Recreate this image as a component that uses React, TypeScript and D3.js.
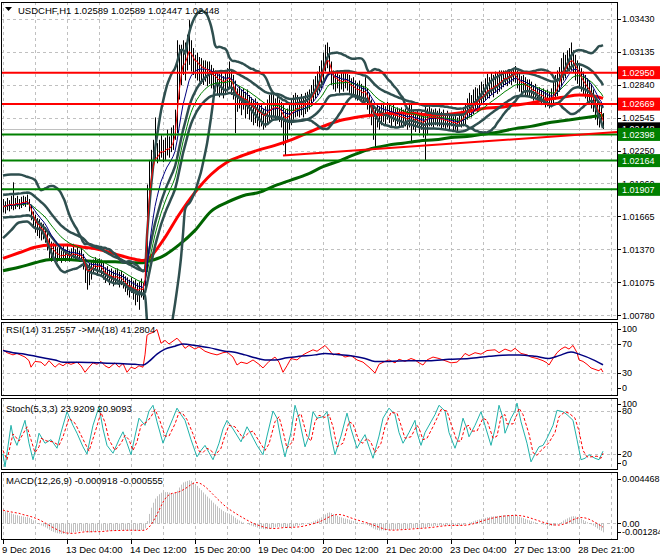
import React from "react";
import * as d3 from "d3";

// ---------- DATA (USDCHF H1, one value per bar) ----------
const closes: number[] = [
  1.0176,1.0174,1.0178,1.0177,1.0178,1.0176,1.0178,1.0179,1.0177,1.0179,1.0180,1.0179,1.0181,
  1.0176,1.0169,1.0163,1.0160,1.0156,1.0158,1.0153,1.0154,1.0149,
  1.0144,1.0138,1.0135,1.0136,1.0133,1.0131,
  1.0132,1.0129,1.0133,1.0131,1.0134,1.0130,1.0132,1.0135,1.0131,1.0133,1.0130,1.0132,
  1.0126,1.0119,1.0113,1.0117,1.0120,
  1.0122,1.0125,1.0120,1.0123,1.0121,
  1.0117,1.0113,1.0115,1.0112,1.0114,1.0111,1.0112,
  1.0113,1.0110,1.0112,1.0108,1.0106,
  1.0104,1.0102,1.0105,1.0101,1.0102,1.0099,1.0101,1.0103,1.0100,
  1.0119,1.0190,1.0208,1.0217,
  1.0221,1.0226,1.0220,1.0224,1.0228,1.0223,1.0226,1.0229,1.0226,1.0231,1.0235,
  1.0246,1.0275,1.0297,1.0306,1.0311,1.0305,1.0313,1.0320,1.0311,
  1.0306,1.0302,1.0305,1.0299,1.0301,1.0297,1.0299,1.0296,1.0297,
  1.0294,1.0290,1.0292,1.0288,1.0287,1.0289,1.0285,1.0288,1.0290,1.0292,1.0287,1.0281,
  1.0275,1.0272,1.0275,1.0271,1.0273,1.0269,1.0271,1.0267,
  1.0265,1.0262,1.0263,1.0260,1.0257,1.0259,1.0255,1.0257,
  1.0260,1.0262,1.0263,1.0266,1.0263,1.0265,1.0262,1.0259,
  1.0255,1.0251,1.0255,1.0257,1.0260,
  1.0262,1.0263,1.0265,1.0263,1.0266,1.0264,1.0267,1.0269,1.0271,
  1.0273,1.0278,1.0281,1.0284,1.0288,1.0294,1.0301,1.0306,1.0311,1.0305,
  1.0293,1.0288,1.0287,1.0290,1.0285,1.0288,1.0286,1.0289,1.0287,
  1.0285,1.0281,1.0283,1.0280,1.0278,1.0280,1.0277,1.0275,1.0280,
  1.0272,1.0266,1.0260,1.0257,1.0255,1.0258,1.0256,1.0259,
  1.0260,1.0257,1.0262,1.0258,1.0256,1.0259,1.0255,1.0257,1.0255,
  1.0256,1.0254,1.0255,1.0252,1.0255,1.0257,1.0253,1.0251,1.0254,1.0250,
  1.0252,1.0249,1.0253,1.0255,1.0257,1.0255,
  1.0254,1.0256,1.0253,1.0255,1.0252,1.0254,1.0251,1.0253,1.0250,
  1.0252,1.0249,1.0251,1.0248,1.0252,1.0254,1.0255,1.0258,
  1.0262,1.0265,1.0263,1.0267,1.0271,1.0269,1.0272,1.0275,
  1.0274,1.0278,1.0281,1.0280,1.0283,1.0281,1.0285,1.0284,1.0287,1.0288,
  1.0290,1.0292,1.0289,1.0293,1.0291,1.0295,1.0294,
  1.0288,1.0286,1.0284,1.0287,1.0283,1.0281,1.0282,
  1.0280,1.0277,1.0279,1.0275,1.0276,1.0273,1.0274,1.0271,1.0272,1.0270,
  1.0271,1.0275,1.0280,1.0284,1.0288,
  1.0296,1.0301,1.0299,1.0304,1.0306,1.0308,1.0305,1.0299,
  1.0296,1.0292,1.0288,1.0285,1.0283,1.0280,1.0278,1.0274,
  1.0271,1.0263,1.0260,1.0255,1.0259,1.02448,
];

const highs: number[] = [
  1.0182,1.0180,1.0183,1.0181,1.0185,1.0197,1.0183,1.0185,1.0182,1.0184,1.0185,1.0184,1.0186,
  1.0182,1.0177,1.0171,1.0168,1.0165,1.0164,1.0161,1.0160,1.0157,
  1.0152,1.0147,1.0144,1.0143,1.0141,1.0139,
  1.0139,1.0136,1.0140,1.0137,1.0141,1.0136,1.0138,1.0142,1.0137,1.0140,1.0136,1.0139,
  1.0133,1.0128,1.0123,1.0124,1.0127,
  1.0128,1.0130,1.0128,1.0129,1.0128,
  1.0125,1.0121,1.0122,1.0119,1.0120,1.0118,1.0119,
  1.0120,1.0117,1.0118,1.0115,1.0113,
  1.0112,1.0110,1.0112,1.0109,1.0110,1.0107,1.0108,1.0111,1.0107,
  1.0132,1.0195,1.0217,1.0226,
  1.0235,1.0255,1.0232,1.0235,1.0239,1.0235,1.0237,1.0244,1.0238,1.0246,1.0248,
  1.0262,1.0324,1.0320,1.0320,1.0324,1.0322,1.0329,1.0342,1.0324,
  1.0317,1.0311,1.0313,1.0309,1.0308,1.0306,1.0306,1.0305,1.0305,
  1.0302,1.0299,1.0297,1.0296,1.0294,1.0296,1.0292,1.0297,1.0299,1.0305,1.0297,1.0293,
  1.0288,1.0281,1.0283,1.0280,1.0281,1.0278,1.0280,1.0275,
  1.0273,1.0271,1.0272,1.0269,1.0266,1.0267,1.0263,1.0265,
  1.0271,1.0275,1.0277,1.0275,1.0272,1.0274,1.0271,1.0269,
  1.0266,1.0262,1.0263,1.0266,1.0271,
  1.0275,1.0277,1.0275,1.0273,1.0276,1.0274,1.0277,1.0278,1.0280,
  1.0284,1.0289,1.0292,1.0296,1.0301,1.0306,1.0313,1.0320,1.0322,1.0318,
  1.0305,1.0297,1.0296,1.0297,1.0293,1.0296,1.0295,1.0297,1.0294,
  1.0293,1.0290,1.0291,1.0288,1.0286,1.0288,1.0285,1.0283,1.0291,
  1.0281,1.0277,1.0271,1.0266,1.0264,1.0267,1.0265,1.0268,
  1.0268,1.0265,1.0269,1.0267,1.0264,1.0267,1.0263,1.0264,1.0263,
  1.0264,1.0262,1.0263,1.0261,1.0268,1.0268,1.0262,1.0260,1.0262,1.0259,
  1.0260,1.0258,1.0266,1.0263,1.0265,1.0263,
  1.0262,1.0263,1.0261,1.0263,1.0260,1.0262,1.0259,1.0261,1.0258,
  1.0259,1.0256,1.0258,1.0255,1.0259,1.0261,1.0263,1.0267,
  1.0272,1.0277,1.0275,1.0280,1.0282,1.0281,1.0284,1.0287,
  1.0285,1.0290,1.0294,1.0291,1.0295,1.0293,1.0296,1.0295,1.0297,1.0297,
  1.0297,1.0297,1.0296,1.0298,1.0297,1.0299,1.0301,
  1.0297,1.0294,1.0292,1.0293,1.0291,1.0289,1.0289,
  1.0287,1.0284,1.0285,1.0282,1.0282,1.0280,1.0281,1.0279,1.0280,1.0278,
  1.0281,1.0287,1.0293,1.0297,1.0300,
  1.0308,1.0313,1.0311,1.0315,1.0317,1.0322,1.0315,1.0311,
  1.0306,1.0303,1.0299,1.0296,1.0293,1.0290,1.0288,1.0285,
  1.0280,1.0275,1.0271,1.0267,1.0266,1.02589,
];

const lows: number[] = [
  1.0170,1.0169,1.0172,1.0171,1.0173,1.0172,1.0173,1.0175,1.0173,1.0174,1.0176,1.0175,1.0177,
  1.0171,1.0163,1.0156,1.0152,1.0149,1.0147,1.0145,1.0146,1.0143,
  1.0136,1.0129,1.0126,1.0129,1.0125,1.0126,
  1.0128,1.0125,1.0128,1.0126,1.0128,1.0126,1.0128,1.0129,1.0127,1.0128,1.0126,1.0127,
  1.0119,1.0107,1.0101,1.0105,1.0110,
  1.0116,1.0119,1.0114,1.0117,1.0113,
  1.0110,1.0107,1.0109,1.0105,1.0108,1.0104,1.0106,
  1.0107,1.0103,1.0105,1.0102,1.0099,
  1.0096,1.0094,1.0098,1.0092,1.0087,1.0090,1.0083,1.0094,1.0092,
  1.0099,1.0117,1.0177,1.0201,
  1.0213,1.0217,1.0214,1.0217,1.0219,1.0215,1.0217,1.0221,1.0219,1.0224,1.0226,
  1.0235,1.0241,1.0271,1.0284,1.0293,1.0288,1.0297,1.0302,1.0296,
  1.0293,1.0290,1.0288,1.0287,1.0285,1.0284,1.0287,1.0283,1.0285,
  1.0281,1.0280,1.0278,1.0275,1.0273,1.0276,1.0272,1.0275,1.0278,1.0280,1.0275,1.0271,
  1.0241,1.0260,1.0263,1.0257,1.0262,1.0254,1.0258,1.0253,
  1.0251,1.0248,1.0250,1.0247,1.0246,1.0247,1.0244,1.0246,
  1.0249,1.0251,1.0253,1.0255,1.0253,1.0254,1.0251,1.0246,
  1.0230,1.0221,1.0235,1.0244,1.0248,
  1.0253,1.0255,1.0256,1.0255,1.0257,1.0255,1.0258,1.0260,1.0262,
  1.0265,1.0269,1.0272,1.0275,1.0278,1.0281,1.0288,1.0296,1.0299,1.0293,
  1.0284,1.0280,1.0278,1.0281,1.0277,1.0280,1.0278,1.0281,1.0279,
  1.0277,1.0273,1.0275,1.0271,1.0270,1.0272,1.0269,1.0268,1.0271,
  1.0262,1.0255,1.0248,1.0235,1.0226,1.0246,1.0244,1.0248,
  1.0251,1.0249,1.0253,1.0250,1.0247,1.0251,1.0247,1.0249,1.0246,
  1.0247,1.0246,1.0247,1.0244,1.0246,1.0232,1.0244,1.0242,1.0246,1.0241,
  1.0244,1.0237,1.0217,1.0239,1.0247,1.0247,
  1.0246,1.0248,1.0247,1.0247,1.0244,1.0246,1.0244,1.0246,1.0243,
  1.0247,1.0243,1.0244,1.0242,1.0247,1.0246,1.0247,1.0249,
  1.0253,1.0255,1.0255,1.0258,1.0262,1.0260,1.0263,1.0266,
  1.0267,1.0270,1.0272,1.0272,1.0275,1.0273,1.0277,1.0276,1.0278,1.0280,
  1.0282,1.0284,1.0283,1.0285,1.0284,1.0287,1.0286,
  1.0281,1.0278,1.0276,1.0279,1.0275,1.0274,1.0274,
  1.0272,1.0270,1.0271,1.0268,1.0269,1.0266,1.0267,1.0264,1.0265,1.0263,
  1.0264,1.0267,1.0271,1.0274,1.0278,
  1.0283,1.0288,1.0290,1.0294,1.0296,1.0297,1.0295,1.0288,
  1.0285,1.0281,1.0278,1.0275,1.0272,1.0269,1.0267,1.0263,
  1.0260,1.0253,1.0248,1.0246,1.0248,1.02447,
];

// long moving averages (bar index -> price)
const slowMaBars: number[] = [0,8,16,24,32,40,48,56,64,70,72,80,88,96,104,112,120,128,136,144,152,160,168,176,184,192,200,208,216,224,232,240,248,256,264,272,280,288,296,300];
const slowMaRed: number[] = [1.0129,1.0134,1.0139,1.0141,1.0141,1.0139,1.0137,1.0133,1.0129,1.0127,1.0128,1.0145,1.0168,1.0188,1.0204,1.0215,1.0221,1.0226,1.0230,1.0235,1.0241,1.0247,1.0252,1.0255,1.0257,1.0258,1.0259,1.0258,1.0257,1.0258,1.0260,1.0263,1.0264,1.0266,1.0268,1.0271,1.0273,1.0275,1.0274,1.0272];
const slowMaGreen: number[] = [1.0118,1.0121,1.0125,1.0128,1.0128,1.0127,1.0126,1.0126,1.0125,1.0125,1.0126,1.0131,1.0141,1.0154,1.0171,1.0179,1.0185,1.0188,1.0194,1.0199,1.0204,1.0211,1.0216,1.0222,1.0227,1.0230,1.0232,1.0234,1.0235,1.0237,1.0238,1.0240,1.0242,1.0245,1.0247,1.0250,1.0252,1.0254,1.0256,1.0257];

// Bollinger band on the first bars (before a full 20-bar window exists)
const bbStartBars: number[] = [0, 4, 8, 12, 16];
const bbStartUpper: number[] = [1.0203, 1.0204, 1.0204, 1.0202, 1.0199];
const bbStartLower: number[] = [1.0147, 1.0154, 1.0161, 1.0162, 1.0156];

// RSI(14) and its MA(18) (bar index -> value)
const rsiBars: number[] = [0,2,5,7,11,13,14,16,19,21,23,26,28,30,32,34,37,39,41,43,45,47,49,51,53,56,58,60,62,64,66,68,70,71,72,73,75,77,79,81,83,85,87,89,91,93,96,98,101,104,107,110,112,115,117,119,122,125,128,130,133,136,138,140,142,144,147,150,152,155,157,159,161,163,165,168,171,174,177,180,183,186,188,191,193,196,198,201,204,206,208,210,212,215,218,221,224,227,229,231,233,236,239,242,246,248,251,254,256,259,262,264,267,270,272,273,275,277,279,281,283,285,287,288,290,292,294,296,298,299,300];
const rsiValues: number[] = [62,58,55,57,52,47,38,46,45,40,47,38,43,40,44,42,45,40,31,38,44,42,46,40,37,44,38,43,31,38,36,40,38,55,82,84,86,90,71,75,70,74,78,72,64,68,63,66,60,57,55,58,59,52,41,45,43,48,42,37,46,52,45,31,40,50,48,55,58,62,60,64,68,62,55,57,52,54,48,45,38,30,42,46,48,44,49,46,50,48,44,41,48,52,50,47,44,45,50,57,54,58,56,61,62,58,63,60,64,57,55,52,50,47,44,41,50,58,63,66,63,68,58,48,46,42,37,35,33,36,31.26];
const rsiMaBars: number[] = [0,5,11,18,26,30,38,48,58,66,70,73,77,81,86,90,96,103,111,115,121,126,131,136,142,148,156,161,166,173,181,186,193,203,213,223,233,243,253,258,266,273,278,284,288,296,300];
const rsiMaValues: number[] = [61,58,56,52,48,45,45,44,43,42,41,46,56,63,67,70,68,65,60,59,55,51,48,48,51,53,55,57,56,54,50,46,46,47,47,49,50,53,55,55,53,50,54,59,56,47,41.28];

// Stochastic(5,3,3) %K and %D (bar index -> value)
const stochKBars: number[] = [0,1,4,5,7,9,11,13,15,17,18,21,24,27,29,32,35,37,40,42,45,48,50,52,55,58,60,62,64,66,68,71,73,75,77,80,82,85,87,89,91,94,97,99,101,103,105,108,110,112,115,119,122,124,127,130,132,135,137,139,141,144,146,148,151,153,155,157,160,162,164,166,169,172,174,177,179,181,183,185,188,190,193,196,198,200,203,206,207,209,211,214,216,218,221,223,226,228,230,232,233,236,239,241,244,246,248,250,251,254,256,257,259,262,264,266,268,270,272,275,277,280,282,285,287,289,291,293,296,298,300];
const stochK: number[] = [20,2,60,45,32,50,67,35,12,35,49,35,40,28,50,79,60,49,30,20,60,86,55,32,21,40,51,35,19,45,70,60,80,88,65,35,50,70,84,75,67,40,16,25,32,22,12,35,55,67,55,37,58,48,32,19,45,80,70,40,16,50,88,70,30,45,79,70,72,79,45,19,45,77,55,28,38,47,30,14,45,70,84,75,50,35,50,67,50,32,50,65,75,88,80,50,28,45,70,55,44,60,79,60,32,55,88,70,49,70,80,91,65,35,9,20,30,32,42,60,81,79,75,67,40,12,14,19,14,12,23.92];
const stochDBars: number[] = [0,2,5,6,8,10,12,14,16,18,19,22,25,28,30,33,36,38,41,43,46,49,51,53,56,59,61,63,65,67,69,72,74,76,78,81,83,86,88,90,92,95,98,100,102,104,106,109,111,113,116,120,123,125,128,131,133,136,138,140,142,145,147,149,152,154,156,158,161,163,165,167,170,173,175,178,180,182,184,186,189,191,194,197,199,201,204,207,208,210,212,215,217,219,222,224,227,229,231,233,234,237,240,242,245,247,249,251,252,255,257,258,260,263,265,267,269,271,273,276,278,281,283,286,288,290,292,294,297,299,300];
const stochD: number[] = [25,12,48,45,38,48,58,40,22,30,42,38,37,32,44,70,63,52,35,24,50,78,64,40,25,35,46,40,25,37,60,65,72,82,70,45,45,62,78,76,68,48,24,22,28,25,18,28,46,60,58,42,50,52,38,25,34,65,72,52,28,38,72,76,45,38,65,74,71,75,58,30,35,65,62,38,35,42,36,22,35,58,78,77,60,42,44,60,56,40,42,58,70,82,80,62,38,38,58,60,52,52,70,67,42,45,72,75,62,62,75,84,75,48,22,18,25,30,36,50,72,79,77,70,52,25,16,16,17,14,20.91];

// MACD value on the first visible bar
const macdAtStart = 0.0013;

const redLevels: number[] = [1.0295, 1.02669];
const greenLevels: number[] = [1.02398, 1.02164, 1.01907];
const bidPrice = 1.02448;
const trendBars: number[] = [140, 307];
const trendPrices: number[] = [1.0221, 1.0242];

const priceTicks: number[] = [1.0343, 1.03135, 1.0284, 1.02545, 1.0225, 1.0196, 1.01665, 1.0137, 1.01075, 1.0078];
const timeLabels: string[] = ["9 Dec 2016","13 Dec 04:00","14 Dec 12:00","15 Dec 20:00","19 Dec 04:00","20 Dec 12:00","21 Dec 20:00","23 Dec 04:00","27 Dec 13:00","28 Dec 21:00"];

const titleText = "USDCHF,H1  1.02589 1.02589 1.02447 1.02448";
const rsiText = "RSI(14) 31.2557  ->MA(18) 41.2804";
const stochText = "Stoch(5,3,3) 23.9209 20.9093";
const macdText = "MACD(12,26,9) -0.000918 -0.000555";

// ---------- indicator math ----------
function sma(a: number[], n: number): number[] {
  return a.map((_, i) => {
    const s = Math.max(0, i - n + 1);
    let t = 0;
    for (let j = s; j <= i; j++) t += a[j];
    return t / (i - s + 1);
  });
}
function stdev(a: number[], n: number): number[] {
  const m = sma(a, n);
  return a.map((_, i) => {
    const s = Math.max(0, i - n + 1);
    let t = 0;
    for (let j = s; j <= i; j++) t += (a[j] - m[i]) ** 2;
    return Math.sqrt(t / (i - s + 1));
  });
}
function ema(a: number[], n: number, seed?: number): number[] {
  const k = 2 / (n + 1);
  const out: number[] = [];
  a.forEach((v, i) => out.push(i === 0 ? (seed ?? v) : out[i - 1] + k * (v - out[i - 1])));
  return out;
}

const FONT = "'Liberation Sans', Arial, sans-serif";
const SLATE = "#2F4F4F";

export default function App() {
  const x = d3.scaleLinear().domain([0, 300]).range([3, 603]);
  const yM = d3.scaleLinear().domain([1.0078, 1.0343]).range([315.4, 19]);
  const yR = d3.scaleLinear().domain([0, 100]).range([394.75, 322.25]);
  const yS = d3.scaleLinear().domain([0, 100]).range([468.3, 396.7]);
  const yD = d3.scaleLinear().domain([-0.001284, 0.004468]).range([536.7, 477.5]);

  // main indicators
  const fast = ema(closes, 3);
  const mid = ema(closes, 10);
  const slow = ema(closes, 20);
  const bbMid = sma(closes, 20);
  const bbSd = stdev(closes, 20);
  const full = 19;
  const bbUpPts: [number, number][] = [
    ...bbStartBars.map((b, k) => [b, bbStartUpper[k]] as [number, number]),
    ...bbMid.map((m, i) => [i, m + 2 * bbSd[i]] as [number, number]).slice(full),
  ];
  const bbLoPts: [number, number][] = [
    ...bbStartBars.map((b, k) => [b, bbStartLower[k]] as [number, number]),
    ...bbMid.map((m, i) => [i, m - 2 * bbSd[i]] as [number, number]).slice(full),
  ];
  const envUp = slow.map((v) => v * 1.001);
  const envLo = slow.map((v) => v * 0.999);

  // MACD 12,26,9
  const e12 = ema(closes, 12);
  const e26 = ema(closes, 26, closes[0] - macdAtStart);
  const macd = e12.map((v, i) => v - e26[i]);
  const signal = sma(macd, 9);

  const lineOf = (arr: number[], y: (v: number) => number) =>
    d3.line<number>().x((_, i) => x(i)).y((v) => y(v))(arr) as string;
  const pairLine = (bars: number[], vals: number[], y: (v: number) => number, curve?: d3.CurveFactory) => {
    const g = d3.line<number>().x((_, k) => x(bars[k])).y((v) => y(v));
    if (curve) g.curve(curve);
    return g(vals) as string;
  };
  const ptsLine = (pts: [number, number][]) =>
    d3.line<[number, number]>().x((d) => x(d[0])).y((d) => yM(d[1])).curve(d3.curveMonotoneX)(pts) as string;

  const gridBars = d3.range(0, 307, 16);
  const L = 1, R = 617;
  const panels = [
    { id: "pm", top: 2, bot: 319 },
    { id: "pr", top: 322, bot: 395 },
    { id: "ps", top: 398, bot: 469 },
    { id: "pd", top: 472, bot: 539 },
  ];
  const vGrid = (top: number, bot: number) =>
    gridBars.map((b) => (
      <line key={"g" + b} x1={x(b) + 0.5} x2={x(b) + 0.5} y1={top} y2={bot} stroke="#c0c0c0" strokeDasharray="3,3" />
    ));
  const hGrid = (y: number, key: string) => (
    <line key={key} x1={L} x2={R} y1={Math.round(y) + 0.5} y2={Math.round(y) + 0.5} stroke="#c0c0c0" strokeDasharray="3,3" />
  );
  const axisLabel = (y: number, t: string, key: string) => (
    <g key={key}>
      <line x1={R} x2={621} y1={Math.round(y) + 0.5} y2={Math.round(y) + 0.5} stroke="#000" />
      <text x={622} y={y + 3.3} fill="#000" fontSize={9}>{t}</text>
    </g>
  );
  const box = (p: number, color: string, key: string) => {
    const y = yM(p);
    return (
      <g key={key}>
        <rect x={618} y={y - 6.5} width={42} height={13} fill={color} />
        <text x={622} y={y + 3.3} fill="#fff" fontSize={9}>{p.toFixed(5)}</text>
      </g>
    );
  };

  return (
    <svg width={660} height={560} style={{ position: "absolute", left: 0, top: 0, background: "#fff" }}
      fontFamily={FONT} fontSize={9.5}>
      <defs>
        {panels.map((p) => (
          <clipPath id={p.id} key={p.id}>
            <rect x={L + 1} y={p.top + 1} width={R - L - 1} height={p.bot - p.top - 1} />
          </clipPath>
        ))}
      </defs>
      <rect x={0} y={0} width={660} height={560} fill="#fff" />

      {/* ---------- MAIN PANEL ---------- */}
      <g>
        {vGrid(2, 319)}
        {priceTicks.map((p, k) => hGrid(yM(p), "hp" + k))}
      </g>
      <g clipPath="url(#pm)">
        <line x1={L} x2={R} y1={Math.round(yM(bidPrice)) + 0.5} y2={Math.round(yM(bidPrice)) + 0.5} stroke="#c0c0c0" />
        {closes.map((_, i) => (
          <line key={"b" + i} x1={x(i) + 0.5} x2={x(i) + 0.5} y1={yM(highs[i])} y2={yM(lows[i])} stroke="#000" />
        ))}
        <path d={pairLine(slowMaBars, slowMaGreen, yM, d3.curveMonotoneX)} fill="none" stroke="#006400" strokeWidth={3} />
        <path d={pairLine(slowMaBars, slowMaRed, yM, d3.curveMonotoneX)} fill="none" stroke="#ff0000" strokeWidth={3} />
        <path d={ptsLine(bbUpPts)} fill="none" stroke={SLATE} strokeWidth={2.5} />
        <path d={ptsLine(bbLoPts)} fill="none" stroke={SLATE} strokeWidth={2.5} />
        <path d={lineOf(envUp, yM)} fill="none" stroke={SLATE} strokeWidth={2.5} />
        <path d={lineOf(envLo, yM)} fill="none" stroke={SLATE} strokeWidth={2.5} />
        <path d={lineOf(slow, yM)} fill="none" stroke="#008000" strokeWidth={1} />
        <path d={lineOf(mid, yM)} fill="none" stroke="#000080" strokeWidth={1} />
        <path d={lineOf(fast, yM)} fill="none" stroke="#ff0000" strokeWidth={1} />
        {redLevels.map((p, k) => (
          <line key={"rl" + k} x1={L} x2={R} y1={yM(p)} y2={yM(p)} stroke="#ff0000" strokeWidth={2} />
        ))}
        {greenLevels.map((p, k) => (
          <line key={"gl" + k} x1={L} x2={R} y1={yM(p)} y2={yM(p)} stroke="#008000" strokeWidth={2} />
        ))}
        <line x1={x(trendBars[0])} y1={yM(trendPrices[0])} x2={x(trendBars[1])} y2={yM(trendPrices[1])}
          stroke="#ff0000" strokeWidth={2} />
      </g>
      <path d="M5,7 L12,7 L8.5,11 Z" fill="#000" />
      <text x={18} y={13.5} fill="#000">{titleText}</text>

      {/* ---------- RSI PANEL ---------- */}
      <g>
        {vGrid(322, 395)}
        {hGrid(yR(70), "r70")}
        {hGrid(yR(30), "r30")}
      </g>
      <g clipPath="url(#pr)">
        <path d={pairLine(rsiBars, rsiValues, yR)} fill="none" stroke="#ff0000" strokeWidth={1} />
        <path d={pairLine(rsiMaBars, rsiMaValues, yR, d3.curveMonotoneX)} fill="none" stroke="#000080" strokeWidth={1.5} />
      </g>
      <text x={6} y={332.5} fill="#000">{rsiText}</text>

      {/* ---------- STOCH PANEL ---------- */}
      <g>
        {vGrid(398, 469)}
        {hGrid(yS(80), "s80")}
        {hGrid(yS(20), "s20")}
      </g>
      <g clipPath="url(#ps)">
        <path d={pairLine(stochKBars, stochK, yS)} fill="none" stroke="#20B2AA" strokeWidth={1} />
        <path d={pairLine(stochDBars, stochD, yS)} fill="none" stroke="#ff0000" strokeWidth={1} strokeDasharray="3,2" />
      </g>
      <text x={6} y={411.5} fill="#000">{stochText}</text>

      {/* ---------- MACD PANEL ---------- */}
      <g>
        {vGrid(472, 539)}
        {hGrid(yD(0), "d0")}
      </g>
      <g clipPath="url(#pd)">
        {macd.map((v, i) => (
          <line key={"h" + i} x1={x(i) + 0.5} x2={x(i) + 0.5} y1={yD(0)} y2={yD(v)} stroke="#c0c0c0" />
        ))}
        <path d={lineOf(signal, yD)} fill="none" stroke="#ff0000" strokeWidth={1} strokeDasharray="2,2" />
      </g>
      <text x={6} y={483.5} fill="#000">{macdText}</text>

      {/* ---------- panel borders ---------- */}
      {panels.map((p) => (
        <rect key={"bd" + p.id} x={L + 0.5} y={p.top + 0.5} width={R - L} height={p.bot - p.top} fill="none" stroke="#000" />
      ))}

      {/* ---------- right axis ---------- */}
      {priceTicks.map((p, k) => axisLabel(yM(p), p.toFixed(5), "pt" + k))}
      {redLevels.map((p, k) => box(p, "#ff0000", "rb" + k))}
      {box(bidPrice, "#000000", "bid")}
      {greenLevels.map((p, k) => box(p, "#008000", "gb" + k))}

      {axisLabel(329, "100", "r100")}
      {axisLabel(yR(70), "70", "r70l")}
      {axisLabel(yR(30), "30", "r30l")}
      {axisLabel(388, "0", "r0")}

      {axisLabel(404, "100", "s100")}
      {axisLabel(yS(80), "80", "s80l")}
      {axisLabel(yS(20), "20", "s20l")}
      {axisLabel(463, "0", "s0")}

      {axisLabel(479, "0.004468", "dmax")}
      {axisLabel(yD(0), "0.00", "d0l")}
      {axisLabel(532, "-0.001284", "dmin")}

      {/* ---------- time axis ---------- */}
      {timeLabels.map((t, k) => (
        <g key={"t" + k}>
          <line x1={x(k * 32) + 0.5} x2={x(k * 32) + 0.5} y1={539} y2={544} stroke="#000" />
          <text x={x(k * 32) - 1} y={553} fill="#000">{t}</text>
        </g>
      ))}
    </svg>
  );
}
